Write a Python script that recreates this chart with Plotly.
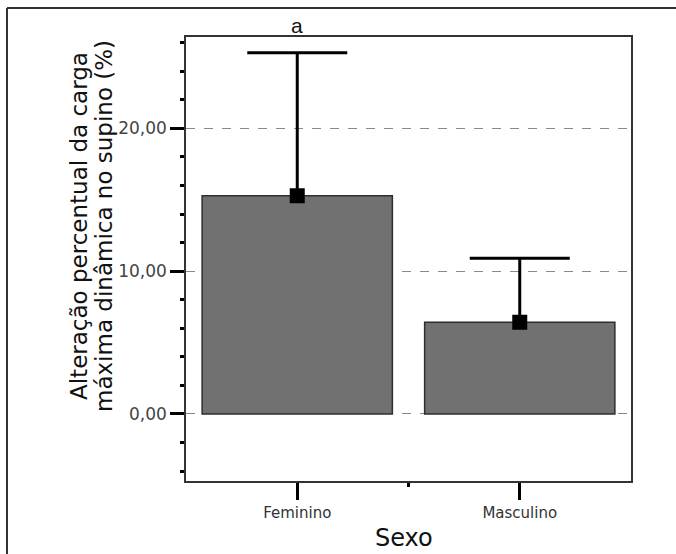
import plotly.graph_objects as go

categories = ["Feminino", "Masculino"]
means = [15.28, 6.42]
upper = [25.3, 10.9]
x_title = "Sexo"
y_title_lines = ["Alteração percentual da carga", "máxima dinâmica no supino (%)"]
letter = "a"

xpos = list(range(len(categories)))
err_up = [u - m for u, m in zip(upper, means)]
zeros = [0 for _ in means]

W, H = 676, 554
L, R, T, B = 186, 45, 37, 73
pw, ph = W - L - R, H - T - B

def px_x(p):
    return (p - L) / pw

def px_y(p):
    return (H - B - p) / ph

fig = go.Figure()
fig.add_trace(go.Bar(
    x=xpos, y=means, width=0.855,
    marker=dict(color="#717171", line=dict(color="#2e2e2e", width=1.5)),
    hoverinfo="skip", showlegend=False,
))
# vertical error line (no caps)
fig.add_trace(go.Scatter(
    x=xpos, y=means, mode="markers", marker=dict(size=1, opacity=0),
    error_y=dict(type="data", symmetric=False, array=err_up, arrayminus=zeros,
                 width=0, thickness=3, color="black"),
    showlegend=False, hoverinfo="skip",
))
# caps at upper end
fig.add_trace(go.Scatter(
    x=xpos, y=upper, mode="markers", marker=dict(size=1, opacity=0),
    error_y=dict(type="data", symmetric=False, array=zeros, arrayminus=zeros,
                 width=50, thickness=3, color="black"),
    showlegend=False, hoverinfo="skip",
))
# mean markers
fig.add_trace(go.Scatter(
    x=xpos, y=means, mode="markers",
    marker=dict(symbol="square", size=15, color="black"),
    showlegend=False, hoverinfo="skip",
))

fig.update_layout(
    width=W, height=H,
    margin=dict(l=L, r=R, t=T, b=B, pad=0),
    paper_bgcolor="white", plot_bgcolor="white",
    separators=",.",
    font=dict(family="DejaVu Sans", color="#333333"),
    xaxis=dict(
        range=[-0.5, 1.5], tickmode="array", tickvals=xpos, ticktext=categories,
        showgrid=False, zeroline=False,
        showline=True, mirror=True, linecolor="#333333", linewidth=1.5,
        ticks="outside", ticklen=17, tickwidth=3, tickcolor="black",
        tickfont=dict(size=15, color="#333333"),
        minor=dict(tickmode="array", tickvals=[0.5], ticks="outside",
                   ticklen=4, tickwidth=3, tickcolor="black", showgrid=False),
    ),
    yaxis=dict(
        range=[-4.7, 26.4], tickmode="linear", tick0=0, dtick=10,
        tickformat=".2f",
        showgrid=True, gridcolor="#8a8a8a", gridwidth=1, griddash="dash",
        zeroline=False,
        showline=True, mirror=True, linecolor="#333333", linewidth=1.5,
        ticks="outside", ticklen=14, tickwidth=3, tickcolor="black",
        tickfont=dict(size=17, color="#444444"),
        minor=dict(dtick=2, tick0=0, ticks="outside", ticklen=4, tickwidth=3,
                   tickcolor="black", showgrid=False),
    ),
)

# outer frame (left and top edges)
fig.add_shape(type="line", xref="paper", yref="paper",
              x0=px_x(7), x1=px_x(7), y0=px_y(8), y1=px_y(H + 2),
              line=dict(color="#333333", width=2))
fig.add_shape(type="line", xref="paper", yref="paper",
              x0=px_x(7), x1=px_x(W + 2), y0=px_y(8), y1=px_y(8),
              line=dict(color="#333333", width=2))

# y title (two lines)
for i, (line, cx) in enumerate(zip(y_title_lines, [79, 104])):
    fig.add_annotation(text=line, xref="paper", yref="paper",
                       x=px_x(cx), y=px_y(226), textangle=-90,
                       showarrow=False, xanchor="center", yanchor="middle",
                       font=dict(size=23, color="#111111"))
# x title
fig.add_annotation(text=x_title, xref="paper", yref="paper",
                   x=px_x(404), y=px_y(538), showarrow=False,
                   xanchor="center", yanchor="middle",
                   font=dict(size=24, color="#111111"))
# significance letter
fig.add_annotation(text=letter, xref="x", yref="paper",
                   x=xpos[0], y=px_y(26), showarrow=False,
                   xanchor="center", yanchor="middle",
                   font=dict(size=21, color="#111111", family="Liberation Sans"))

fig.write_html("out.html")
